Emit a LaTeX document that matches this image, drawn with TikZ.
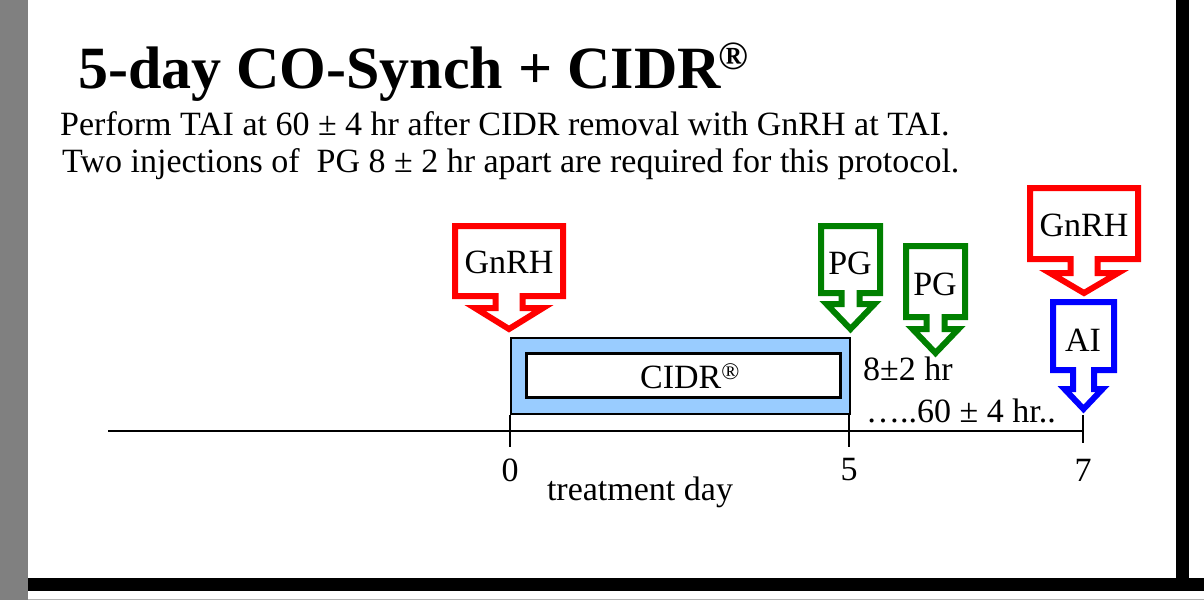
\documentclass[tikz,border=0pt]{standalone}
\usepackage{fontspec}
\setmainfont{Liberation Serif}
\definecolor{cidrblue}{HTML}{99CCFF}
\definecolor{pggreen}{HTML}{008000}
\definecolor{framegray}{HTML}{808080}

% shot callout: colour, cx, half width, top, box bottom, stem half, wing half, wing y, tip y
\newcommand{\shotbox}[9]{%
  \draw[#1, line width=6pt] (#2-#3,#4) -- (#2+#3,#4) -- (#2+#3,#5) -- (#2+#6,#5) -- (#2+#6,#8)
    -- (#2+#7,#8) -- (#2,#9) -- (#2-#7,#8) -- (#2-#6,#8) -- (#2-#6,#5) -- (#2-#3,#5) -- cycle;}

\begin{document}
\begin{tikzpicture}[x=1pt, y=-1pt,
    every node/.style={inner sep=0pt},
    label/.style={font=\fontsize{34}{36}\selectfont},
    tick/.style={line width=2.5pt}]
  \useasboundingbox (0,0) rectangle (1204,600);
  % frame
  \fill[white] (0,0) rectangle (1204,600);
  \fill[framegray] (0,0) rectangle (28,600);
  \fill[black] (1176,0) rectangle (1189,591);
  \fill[black] (28,578) rectangle (1204,591);
  \draw[framegray!60, line width=1pt] (28,599) -- (1204,599);

  % heading
  \node[anchor=base west, font=\fontsize{60}{66}\selectfont\bfseries] (title) at (78,88)
    {5-day CO-Synch + CIDR\kern-2pt\raisebox{19pt}{\fontsize{40}{40}\selectfont\textregistered}};
  \node[anchor=base west, font=\fontsize{34}{38}\selectfont] (line1) at (60,135)
    {Perform TAI at 60 ± 4 hr after CIDR removal with GnRH at TAI.};
  \node[anchor=base west, font=\fontsize{34}{38}\selectfont] (line2) at (62,172)
    {Two injections of~~PG 8 ± 2 hr apart are required for this protocol.};

  % time line
  \coordinate (start) at (108,431);
  \coordinate (d0) at (510,431);
  \coordinate (d5) at (849,431);
  \coordinate (d7) at (1083,431);
  \draw[tick] (start) -- (d7);
  \draw[tick] ([yshift=16]d0) -- ([yshift=-16]d0);
  \draw[tick] ([yshift=16]d5) -- ([yshift=-16]d5);
  \draw[tick] ([yshift=16]d7) -- ([yshift=-12]d7);
  \node[label] (n0) at (510,470) {0};
  \node[label] (n5) at (849,470) {5};
  \node[label] (n7) at (1083,470) {7};
  \node[label] (xlab) at (640,492) {treatment day};

  % CIDR insert
  \draw[fill=cidrblue, line width=2.5pt] (511,338) rectangle (850,414);
  \draw[fill=white, line width=3pt] (526,353) rectangle (840,397);
  \node[label] (cidr) at (690,376) {CIDR\textsuperscript{\textregistered}};

  % injections
  \shotbox{red}{509}{54}{226}{296}{13.5}{34}{308}{329}
  \node[label] (gnrhA) at (509,262) {GnRH};
  \shotbox{pggreen}{850.5}{29.5}{226}{293}{9}{24}{304}{329}
  \node[label] (pgA) at (850,263) {PG};
  \shotbox{pggreen}{935.5}{29.5}{246}{317}{9}{23}{329}{353}
  \node[label] (pgB) at (935,284) {PG};
  \shotbox{red}{1084}{54}{188}{259}{13.5}{34}{273}{293}
  \node[label] (gnrhB) at (1084,225) {GnRH};
  \shotbox{blue}{1083.5}{30.5}{302}{370}{10.5}{19}{389}{409}
  \node[label] (ai) at (1083,340) {AI};

  \node[label, anchor=base west] (gap8) at (863,380) {8±2 hr};
  \node[label, anchor=base west] (gap60) at (866,422) {…..60 ± 4 hr..};
\end{tikzpicture}
\end{document}
